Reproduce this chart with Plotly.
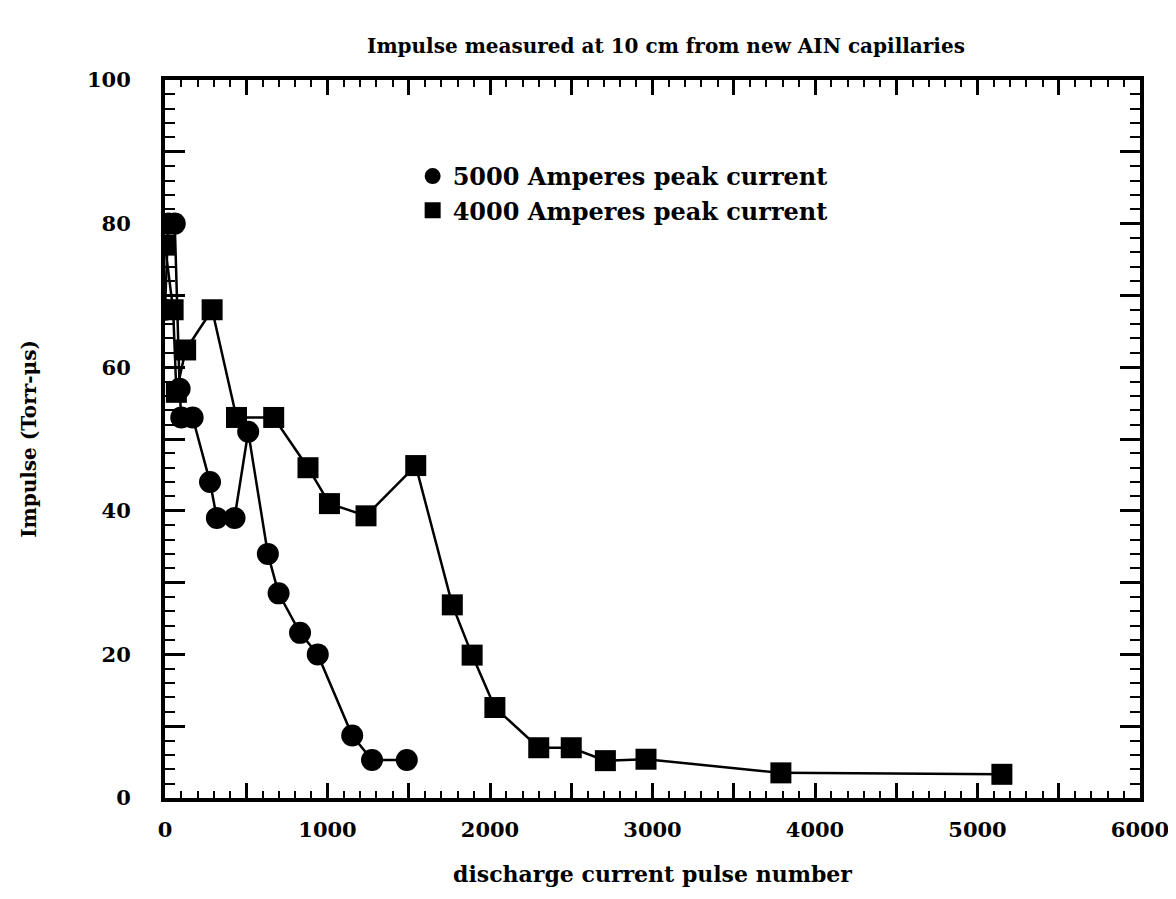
import plotly.graph_objects as go

# 5000 A peak current (circles)
c_x = [0, 20, 60, 90, 100, 170, 277, 319, 428, 512, 633, 699, 831, 940, 1152, 1274, 1488]
c_y = [68, 80, 80, 57, 53, 53, 44, 39, 39, 51, 34, 28.5, 23, 20, 8.7, 5.3, 5.3]

# 4000 A peak current (squares)
s_x = [0, 50, 70, 127, 290, 440, 669, 880, 1012, 1237, 1543, 1768, 1890, 2030, 2300, 2500, 2710, 2960, 3790, 5150]
s_y = [77, 68, 56.5, 62.4, 68, 53, 53, 46, 41, 39.3, 46.3, 26.9, 19.9, 12.6, 7, 7, 5.2, 5.4, 3.5, 3.3]

series_names = ["5000 Amperes peak current", "4000 Amperes peak current"]

x_tickvals = list(range(0, 6001, 500))
x_ticktext = [str(v) if v % 1000 == 0 else "" for v in x_tickvals]
y_tickvals = list(range(0, 101, 10))
y_ticktext = [str(v) if v % 20 == 0 else "" for v in y_tickvals]

FONT = "DejaVu Serif"

fig = go.Figure()
fig.add_trace(go.Scatter(
    x=c_x, y=c_y, mode="lines+markers", name=series_names[0], showlegend=False,
    line=dict(color="black", width=2.5),
    marker=dict(symbol="circle", size=22, color="black"),
))
fig.add_trace(go.Scatter(
    x=s_x, y=s_y, mode="lines+markers", name=series_names[1], showlegend=False,
    line=dict(color="black", width=2.5),
    marker=dict(symbol="square", size=21, color="black"),
))
# legend entries (marker only, as in the reference)
fig.add_trace(go.Scatter(
    x=[None], y=[None], mode="markers", name=series_names[0], legendgroup="a",
    marker=dict(symbol="circle", size=20, color="black"),
))
fig.add_trace(go.Scatter(
    x=[None], y=[None], mode="markers", name=series_names[1], legendgroup="b",
    marker=dict(symbol="square", size=17, color="black"),
))

axis_common = dict(
    showline=True, linecolor="black", linewidth=4, mirror="ticks",
    ticks="inside", tickcolor="black", tickwidth=2.5,
    showgrid=False, zeroline=False, automargin=False,
    tickfont=dict(family=FONT, size=21, color="black", weight="bold"),
)

fig.update_xaxes(
    range=[0, 6000], tickvals=x_tickvals, ticktext=x_ticktext, ticklen=15,
    ticklabelstandoff=10,
    minor=dict(dtick=100, ticks="inside", ticklen=7, tickwidth=2, tickcolor="black"),
    title=dict(text="discharge current pulse number",
               font=dict(family=FONT, size=22, color="black", weight="bold"), standoff=26),
    **axis_common,
)
fig.update_yaxes(
    range=[0, 100], tickvals=y_tickvals, ticktext=y_ticktext, ticklen=20,
    ticklabelstandoff=26,
    minor=dict(dtick=2, ticks="inside", ticklen=10, tickwidth=2, tickcolor="black"),
    title=dict(text="Impulse (Torr-μs)",
               font=dict(family=FONT, size=20, color="black", weight="bold"), standoff=46),
    **axis_common,
)

fig.update_layout(
    width=1176, height=899,
    margin=dict(l=157, r=44, t=72, b=109),
    paper_bgcolor="white", plot_bgcolor="white",
    title=dict(text="Impulse measured at 10 cm from new AIN capillaries",
               x=658 / 1176, xanchor="center", y=1 - 38 / 899, yanchor="middle",
               font=dict(family=FONT, size=20, color="black", weight="bold")),
    legend=dict(x=0.254, y=0.897, xanchor="left", yanchor="top",
                bgcolor="rgba(0,0,0,0)", tracegroupgap=0, itemwidth=30,
                font=dict(family=FONT, size=24, color="black", weight="bold")),
    showlegend=True,
)

fig.write_html("out.html")
